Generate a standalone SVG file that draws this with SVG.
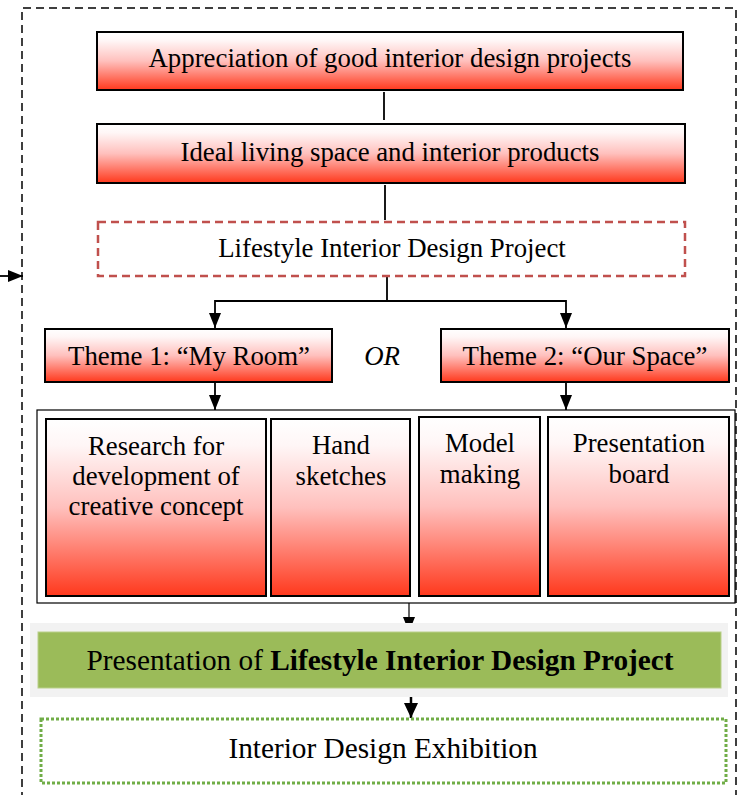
<svg xmlns="http://www.w3.org/2000/svg" width="745" height="795" viewBox="0 0 745 795">
<defs>
<linearGradient id="rg" x1="0" y1="0" x2="0" y2="1">
<stop offset="0" stop-color="#ffffff"/>
<stop offset="0.15" stop-color="#fff6f6"/>
<stop offset="0.5" stop-color="#ffc0bd"/>
<stop offset="1" stop-color="#ff381c"/>
</linearGradient>
<marker id="ah" viewBox="0 0 15 12" refX="15" refY="6" markerWidth="15" markerHeight="12" markerUnits="userSpaceOnUse" orient="auto">
<path d="M0,0 L15,6 L0,12 z" fill="#000"/>
</marker>
<marker id="ahw" viewBox="0 0 15 14" refX="15" refY="7" markerWidth="15" markerHeight="14" markerUnits="userSpaceOnUse" orient="auto">
<path d="M0,0 L15,7 L0,14 z" fill="#000"/>
</marker>
</defs>
<style>
text{font-family:"Liberation Serif","Times New Roman",serif;font-size:26.8px;fill:#000;text-anchor:middle}
.big{font-size:29.3px}
.rb{fill:url(#rg);stroke:#000;stroke-width:2}
.ln{stroke:#000;stroke-width:1.8;fill:none}
</style>
<rect width="745" height="795" fill="#fff"/>
<path d="M22,800 V8 H736 V800" fill="none" stroke="#000" stroke-width="1.5" stroke-dasharray="8 5"/>

<g id="connectors">
<line class="ln" x1="0" y1="276" x2="23" y2="276" stroke-width="2" marker-end="url(#ah)"/>
<line class="ln" x1="384" y1="92" x2="384" y2="120"/>
<line class="ln" x1="385" y1="185" x2="385" y2="220"/>
<path class="ln" d="M387,277 V301 H215 V328" marker-end="url(#ah)"/>
<path class="ln" d="M387,301 H566 V328" marker-end="url(#ah)"/>
<line class="ln" x1="215" y1="382" x2="215" y2="410" marker-end="url(#ah)"/>
<line class="ln" x1="566" y1="382" x2="566" y2="410" marker-end="url(#ah)"/>
<line x1="409" y1="596" x2="409" y2="632" stroke="#000" stroke-width="1.2" marker-end="url(#ah)"/>
<line x1="411" y1="688" x2="411" y2="718" stroke="#000" stroke-width="2.5" marker-end="url(#ahw)"/>
</g>

<g id="n1">
<rect class="rb" x="97" y="32" width="586" height="58"/>
<text x="390" y="67">Appreciation of good interior design projects</text>
</g>
<g id="n2">
<rect class="rb" x="97" y="124" width="588" height="59"/>
<text x="390" y="161">Ideal living space and interior products</text>
</g>
<g id="n3">
<rect x="98" y="222" width="587" height="54" fill="#fff" stroke="#c0504d" stroke-width="2.5" stroke-dasharray="8 5"/>
<text x="392" y="257">Lifestyle Interior Design Project</text>
</g>
<g id="theme1">
<rect class="rb" x="45" y="329" width="287" height="53"/>
<text x="189" y="365">Theme 1: “My Room”</text>
</g>
<g id="or">
<text x="382" y="365" font-style="italic">OR</text>
</g>
<g id="theme2">
<rect class="rb" x="441" y="329" width="288" height="53"/>
<text x="585" y="365">Theme 2: “Our Space”</text>
</g>
<g id="activities">
<rect x="37" y="410" width="698" height="193" fill="#fff" stroke="#000" stroke-width="1.2"/>
<g id="a1">
<rect class="rb" x="46" y="419" width="220" height="177"/>
<text x="156" y="455">Research for</text>
<text x="156" y="485">development of</text>
<text x="156" y="515">creative concept</text>
</g>
<g id="a2">
<rect class="rb" x="271" y="419" width="139" height="177"/>
<text x="341" y="454">Hand</text>
<text x="341" y="485">sketches</text>
</g>
<g id="a3">
<rect class="rb" x="419" y="417" width="121" height="179"/>
<text x="480" y="452">Model</text>
<text x="480" y="483">making</text>
</g>
<g id="a4">
<rect class="rb" x="548" y="417" width="181" height="179"/>
<text x="639" y="452">Presentation</text>
<text x="639" y="483">board</text>
</g>
</g>
<g id="presentation">
<rect x="30" y="623" width="698" height="74" fill="#f2f2f2"/>
<rect x="38" y="632" width="683" height="56" fill="#9bbb59" stroke="#b9d08a" stroke-width="1"/>
<text class="big" x="380" y="670">Presentation of <tspan font-weight="bold">Lifestyle Interior Design Project</tspan></text>
</g>
<g id="exhibition">
<rect x="41" y="719" width="685" height="64" fill="#fff" stroke="#70ad47" stroke-width="3" stroke-dasharray="3 2"/>
<text class="big" x="383" y="758">Interior Design Exhibition</text>
</g>
</svg>
